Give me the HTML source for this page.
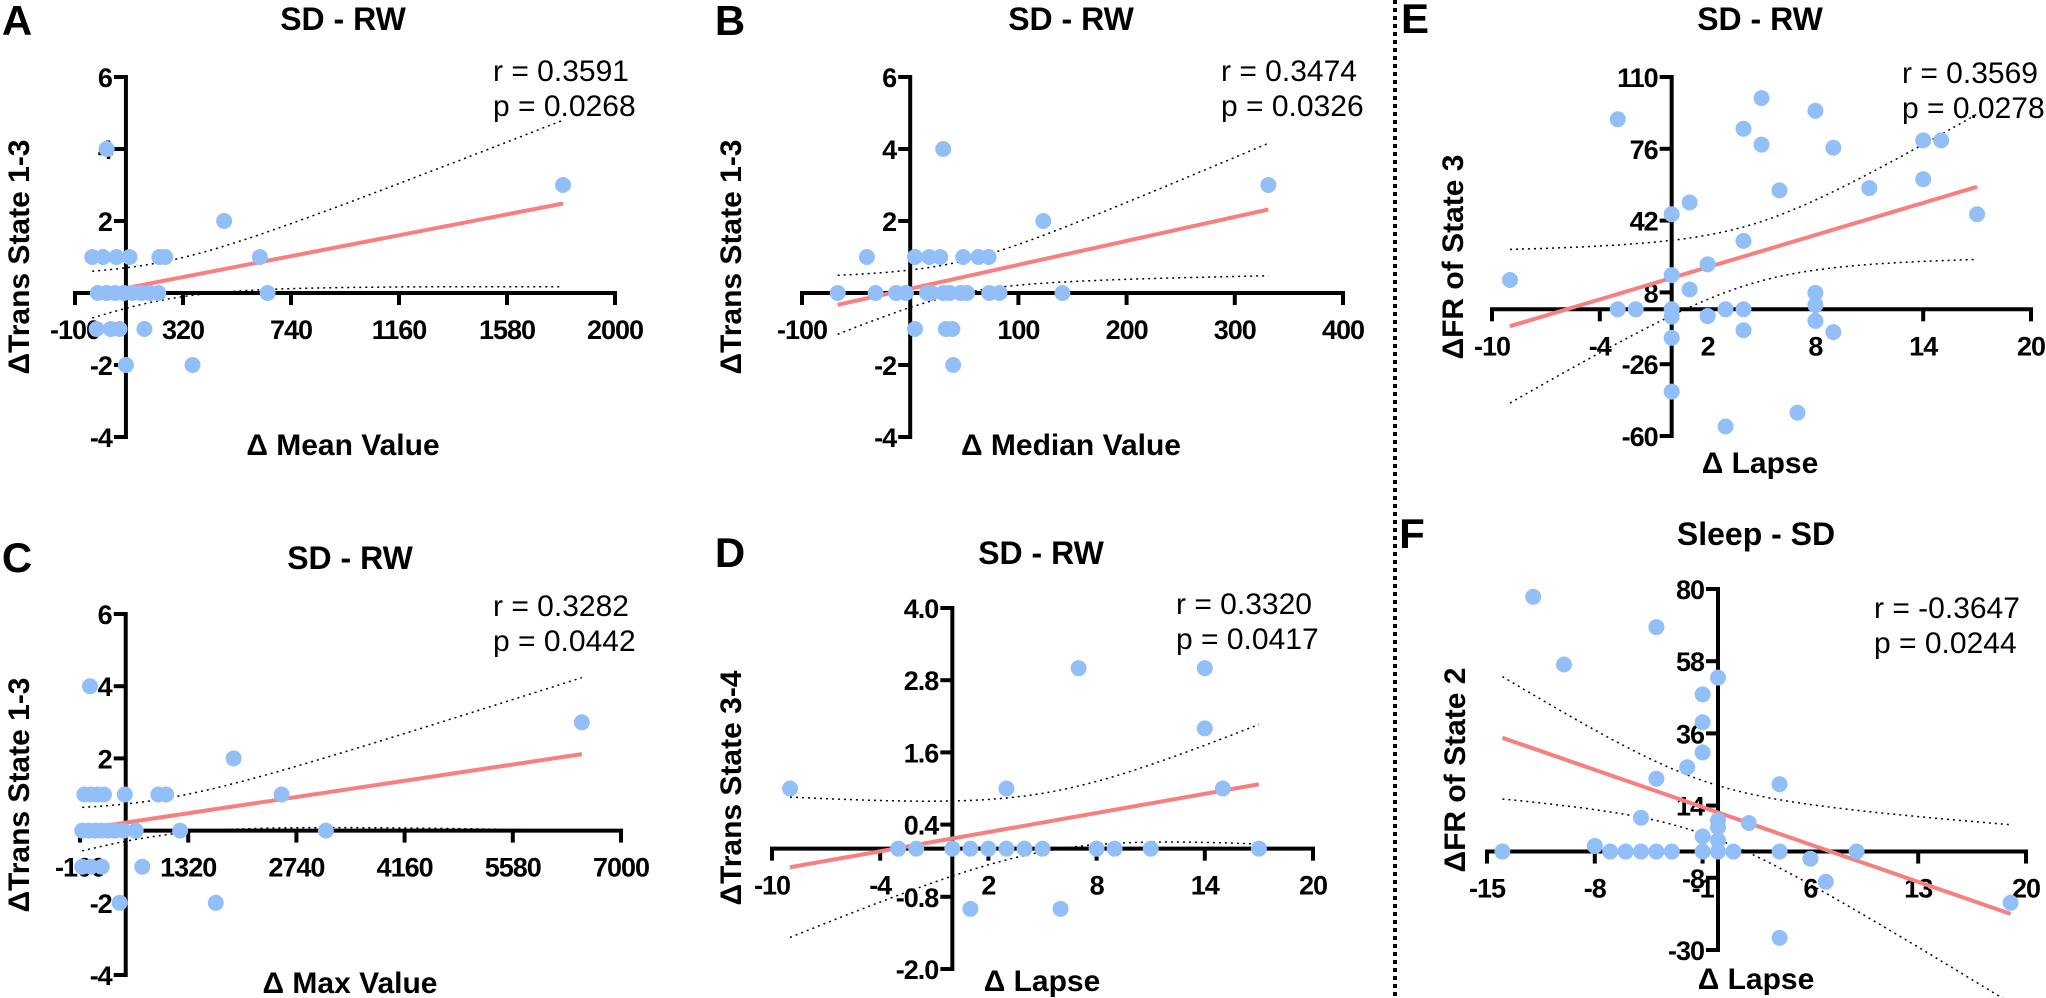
<!DOCTYPE html>
<html><head><meta charset="utf-8"><style>
body{margin:0;background:#fff;}
svg{display:block;font-family:"Liberation Sans",Arial,sans-serif;}
.tk{font-size:27px;font-weight:bold;letter-spacing:-1px;}
.tt{font-size:32px;font-weight:bold;}
.lt{font-size:42px;font-weight:bold;}
.at{font-size:30px;font-weight:bold;}
.st{font-size:30px;}
</style></head><body>
<svg id="fig" width="2046" height="998" viewBox="0 0 2046 998" xmlns="http://www.w3.org/2000/svg">
<line x1="1395" y1="0" x2="1395" y2="998" stroke="#000" stroke-width="4" stroke-dasharray="4,4"/>
</svg>
<script>
// Panel A
const aX=[23,-33,9,61,112,228,251,480,619,649,1798,-11,23,56,90,123,157,191,224,-16,39,73,170,98,357];
const aY=[4,1,1,1,1,1,1,2,1,0,3,0,0,0,0,0,0,0,0,-1,-1,-1,-1,-2,-2];
const aXTicks=[-100,320,740,1160,1580,2000];
const aYTicks=[-4,-2,0,2,4,6];
// Panel B
const bX=[30.5,331,123,-40,4.4,17.6,27.7,49,63,72.5,-67,-32,-13,-4,15.6,19.6,30.5,36.5,46.5,52.5,73,82.5,140.7,4.4,33,39,39.7];
const bY=[4,3,2,1,1,1,1,1,1,1,0,0,0,0,0,0,0,0,0,0,0,0,0,-1,-1,-1,-2];
const bXTicks=[-100,100,200,300,400];
const bYTicks=[-4,-2,0,2,4,6];
// Panel C
const cX=[31,6486,1916,-43,43,128,214,488,928,1031,2545,-71,14,100,186,271,357,471,631,1214,3127,-71,43,186,717,420,1682];
const cY=[4,3,2,1,1,1,1,1,1,1,1,0,0,0,0,0,0,0,0,0,0,-1,-1,-1,-1,-2,-2];
const cXTicks=[-100,1320,2740,4160,5580,7000];
const cYTicks=[-4,-2,0,2,4,6];
// Panel D
const dX=[-9,7,14,14,3,15,-3,-2,0,1,2,3,4,5,8,9,11,17,1,6];
const dY=[1,3,3,2,1,1,0,0,0,0,0,0,0,0,0,0,0,0,-1,-1];
const dXTicks=[-10,-4,2,8,14,20];
const dYTicks=[-2,-0.8,0.4,1.6,2.8,4];
// Panel E
const eX=[5,8,-3,4,5,9,14,15,14,11,6,1,0,17,4,2,-9,0,1,8,8,-3,-2,0,0,2,3,4,8,4,9,0,0,7,3];
const eY=[100,94,90,85.5,78,76.5,80,80,61.6,57.4,56.3,50.6,45,45,32.4,21.3,13.9,16.2,9.4,7.8,2,0,0,0,-3.5,-3.2,0,0,-5.5,-9.9,-10.8,-13.5,-39,-49,-55.5];
const eXTicks=[-10,-4,2,8,14,20];
const eYTicks=[-60,-26,8,42,76,110];
// Panel F
const fX=[-12,-4,-10,0,-1,-1,-1,-2,-4,4,-5,0,0,2,-1,0,-14,-8,-7,-6,-5,-4,-3,-1,0,1,4,9,6,7,19,4];
const fY=[77.6,68.4,57,53,47.9,39.4,30.2,25.7,22.2,20.5,10.3,9.5,7.4,8.7,4.6,3.4,0,1.7,0,0,0,0,0,0,0,0,0,0,-2.2,-9.2,-15.6,-26.3];
const fXTicks=[-15,-8,-1,6,13,20];
const fYTicks=[-30,-8,14,36,58,80];

const NS='http://www.w3.org/2000/svg';
const svg=document.getElementById('fig');
function mk(tag,attrs,parent,text){const e=document.createElementNS(NS,tag);for(const k in attrs)e.setAttribute(k,attrs[k]);if(text!==undefined)e.textContent=text;(parent||svg).appendChild(e);return e;}

function panel(p){
  const g=mk('g',{});
  
  
  const xs=v=>p.px0+(v-p.xMin)/(p.xMax-p.xMin)*(p.px1-p.px0);
  const ys=v=>p.py0+(v-p.yMin)/(p.yMax-p.yMin)*(p.py1-p.py0);
  const ax=xs(p.yAxisAt), ay=ys(0);
  // regression
  const n=p.X.length;let mx=0,my=0;for(let i=0;i<n;i++){mx+=p.X[i];my+=p.Y[i];}mx/=n;my/=n;
  let sxx=0,sxy=0;for(let i=0;i<n;i++){sxx+=(p.X[i]-mx)**2;sxy+=(p.X[i]-mx)*(p.Y[i]-my);}
  const b=sxy/sxx,a=my-b*mx;let sse=0;for(let i=0;i<n;i++)sse+=(p.Y[i]-a-b*p.X[i])**2;
  const s=Math.sqrt(sse/(n-2)),t=2.03;
  const x0=Math.min(...p.X),x1=Math.max(...p.X);
  let up=[],lo=[];
  for(let k=0;k<=50;k++){const x=x0+(x1-x0)*k/50;const h=t*s*Math.sqrt(1/n+(x-mx)**2/sxx);const yh=a+b*x;
    up.push(xs(x).toFixed(1)+','+ys(yh+h).toFixed(1));lo.push(xs(x).toFixed(1)+','+ys(yh-h).toFixed(1));}
  const ci1=mk('polyline',{points:up.join(' '),fill:'none',stroke:'#000','stroke-width':1.5,'stroke-dasharray':'2,4'},g);
  
  
  const ci2=mk('polyline',{points:lo.join(' '),fill:'none',stroke:'#000','stroke-width':1.5,'stroke-dasharray':'2,4'},g);
  
  
  // axes
  const xa=mk('line',{x1:p.px0-2,y1:ay,x2:p.px1+2,y2:ay,stroke:'#000','stroke-width':4},g);
  
  
  const ya=mk('line',{x1:ax,y1:p.py0+2,x2:ax,y2:p.py1-2,stroke:'#000','stroke-width':4},g);
  
  
  p.xTicks.forEach(v=>{const x=xs(v);
    mk('line',{x1:x,y1:ay,x2:x,y2:ay+12,stroke:'#000','stroke-width':4},g);
    const tl=mk('text',{x:x,y:ay+46,'text-anchor':'middle',class:'tk'},g,String(v));
    
    });
  p.yTicks.forEach(v=>{const y=ys(v);
    mk('line',{x1:ax-12,y1:y,x2:ax,y2:y,stroke:'#000','stroke-width':4},g);
    if(Math.abs(v)<1e-9)return;
    const tl=mk('text',{x:ax-14,y:y+10,'text-anchor':'end',class:'tk'},g,p.fmt?v.toFixed(1):String(v));
    
    });
  // fit line
  const fl=mk('line',{x1:xs(x0),y1:ys(a+b*x0),x2:xs(x1),y2:ys(a+b*x1),stroke:'#f77f7f','stroke-width':4},g);
  
  
  for(let i=0;i<n;i++){
    const c=mk('ellipse',{cx:xs(p.X[i]),cy:ys(p.Y[i]),rx:8,ry:8,fill:'#92bff8'},g);
    
    
  }
  const L=mk('text',{x:p.lx,y:p.ly+15,class:'lt','text-anchor':'middle'},g,p.letter);
  
  
  const T=mk('text',{x:p.tx,y:p.ty+12,class:'tt','text-anchor':'middle'},g,p.title);
  
  
  const r=mk('text',{x:p.rx,y:p.ry+11,class:'st'},g,p.r);
  
  
  const pv=mk('text',{x:p.rx,y:p.ry+46,class:'st'},g,p.p);
  
  
  const yt=mk('text',{x:0,y:0,class:'at','text-anchor':'middle',transform:'translate('+(p.ytx+11)+','+p.yty+') rotate(-90)'},g,p.ytitle);
  
  
  const xt=mk('text',{x:p.xtx,y:p.xty+11,class:'at','text-anchor':'middle'},g,p.xtitle);
  
  
}

panel({letter:'A',title:'SD - RW',X:aX,Y:aY,xTicks:aXTicks,yTicks:aYTicks,xMin:-100,xMax:2000,px0:75,px1:615,yMin:-4,yMax:6,py0:437,py1:77,yAxisAt:98,
  lx:17,ly:20,tx:343,ty:18,rx:493,ry:70,r:'r = 0.3591',p:'p = 0.0268',ytx:18,yty:257,ytitle:'ΔTrans State 1-3',xtx:343,xty:444,xtitle:'Δ Mean Value'});
panel({letter:'B',title:'SD - RW',X:bX,Y:bY,xTicks:bXTicks,yTicks:bYTicks,xMin:-100,xMax:400,px0:802,px1:1343,yMin:-4,yMax:6,py0:437,py1:77,yAxisAt:0,
  lx:730,ly:20,tx:1071,ty:18,rx:1221,ry:70,r:'r = 0.3474',p:'p = 0.0326',ytx:730,yty:257,ytitle:'ΔTrans State 1-3',xtx:1071,xty:444,xtitle:'Δ Median Value'});
panel({letter:'C',title:'SD - RW',X:cX,Y:cY,xTicks:cXTicks,yTicks:cYTicks,xMin:-100,xMax:7000,px0:80,px1:621,yMin:-4,yMax:6,py0:975,py1:614,yAxisAt:500,
  lx:17,ly:557,tx:350,ty:557,rx:493,ry:605,r:'r = 0.3282',p:'p = 0.0442',ytx:18,yty:795,ytitle:'ΔTrans State 1-3',xtx:350,xty:982,xtitle:'Δ Max Value'});
panel({letter:'D',title:'SD - RW',X:dX,Y:dY,xTicks:dXTicks,yTicks:dYTicks,fmt:true,xMin:-10,xMax:20,px0:772,px1:1313,yMin:-2,yMax:4,py0:969,py1:608,yAxisAt:0,
  lx:730,ly:552,tx:1041,ty:552,rx:1176,ry:603,r:'r = 0.3320',p:'p = 0.0417',ytx:730,yty:788,ytitle:'ΔTrans State 3-4',xtx:1042,xty:980,xtitle:'Δ Lapse'});
panel({letter:'E',title:'SD - RW',X:eX,Y:eY,xTicks:eXTicks,yTicks:eYTicks,xMin:-10,xMax:20,px0:1492,px1:2031,yMin:-60,yMax:110,py0:436,py1:77,yAxisAt:0,
  lx:1415,ly:18,tx:1760,ty:18,rx:1902,ry:72,r:'r = 0.3569',p:'p = 0.0278',ytx:1452,yty:257,ytitle:'ΔFR of State 3',xtx:1760,xty:462,xtitle:'Δ Lapse'});
panel({letter:'F',title:'Sleep - SD',X:fX,Y:fY,xTicks:fXTicks,yTicks:fYTicks,xMin:-15,xMax:20,px0:1487,px1:2026,yMin:-30,yMax:80,py0:950,py1:589,yAxisAt:0,
  lx:1412,ly:533,tx:1756,ty:533,rx:1874,ry:607,r:'r = -0.3647',p:'p = 0.0244',ytx:1454,yty:770,ytitle:'ΔFR of State 2',xtx:1756,xty:978,xtitle:'Δ Lapse'});
</script>
</body></html>
